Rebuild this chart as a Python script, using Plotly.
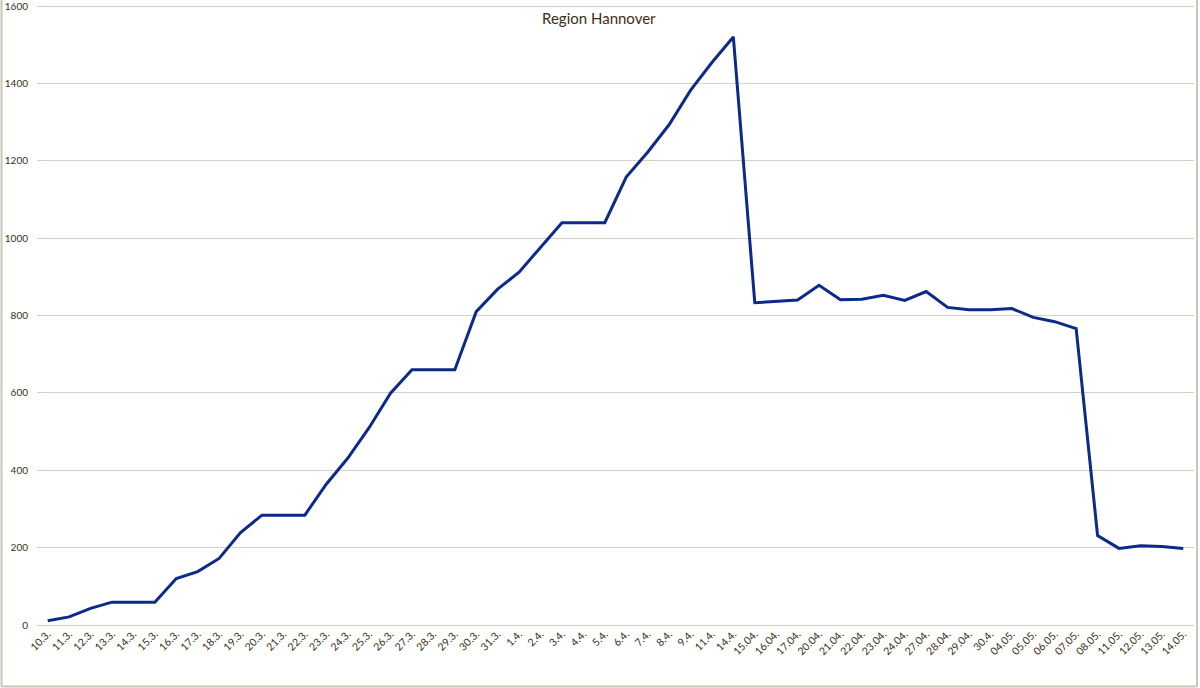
import plotly.graph_objects as go

dates = ["10.3.", "11.3.", "12.3.", "13.3.", "14.3.", "15.3.", "16.3.", "17.3.", "18.3.", "19.3.",
         "20.3.", "21.3.", "22.3.", "23.3.", "24.3.", "25.3.", "26.3.", "27.3.", "28.3.", "29.3.",
         "30.3.", "31.3.", "1.4.", "2.4.", "3.4.", "4.4.", "5.4.", "6.4.", "7.4.", "8.4.",
         "9.4.", "11.4.", "14.4.", "15.04.", "16.04.", "17.04.", "20.04.", "21.04.", "22.04.", "23.04.",
         "24.04.", "27.04.", "28.04.", "29.04.", "30.4.", "04.05.", "05.05.", "06.05.", "07.05.", "08.05.",
         "11.05.", "12.05.", "13.05.", "14.05."]

cases = [11, 21, 43, 59, 59, 59, 120, 138, 172, 239,
         284, 284, 284, 364, 431, 510, 599, 660, 660, 660,
         810, 868, 912, 976, 1040, 1040, 1040, 1158, 1222, 1293,
         1382, 1454, 1520, 833, 836, 840, 878, 841, 842, 852,
         839, 862, 821, 815, 815, 818, 795, 784, 766, 231,
         198, 205, 203, 198]

y_ticks = [0, 200, 400, 600, 800, 1000, 1200, 1400, 1600]

title_text = "Region Hannover"

text_color = "#3d2e14"
grid_color = "#d6d1c4"
line_color = "#0c2a8a"
font_family = "Lato, 'Open Sans', sans-serif"

fig = go.Figure()
fig.add_trace(go.Scatter(
    x=list(range(len(dates))),
    y=cases,
    mode="lines",
    line=dict(color=line_color, width=3),
    hoverinfo="y",
))

W, H = 1200, 688
ml, mr, mt, mb = 37, 6, 3, 63
pw = W - ml - mr
ph = H - mt - mb
y_top = 1600 * ph / (ph - 3)  # leave 3px above the 1600 gridline

def px(xp):
    return (xp - ml) / pw

def py(yp):
    return (H - mb - yp) / ph

fig.update_layout(
    width=W, height=H,
    margin=dict(l=ml, r=mr, t=mt, b=mb, pad=0),
    paper_bgcolor="white",
    plot_bgcolor="white",
    showlegend=False,
    font=dict(family=font_family, color=text_color, size=10),
    xaxis=dict(
        range=[-0.5, len(dates) - 0.5],
        tickmode="array",
        tickvals=list(range(len(dates))),
        ticktext=dates,
        tickangle=-45,
        showgrid=False,
        zeroline=False,
        showline=False,
        ticks="",
        automargin=False,
        ticklabeloverflow="allow",
        tickfont=dict(size=10.5, color=text_color),
    ),
    yaxis=dict(
        range=[0, y_top],
        tickmode="array",
        tickvals=y_ticks,
        showgrid=True,
        gridcolor=grid_color,
        gridwidth=1,
        zeroline=True,
        zerolinecolor=grid_color,
        zerolinewidth=1,
        showline=False,
        ticks="",
        automargin=False,
        ticklabeloverflow="allow",
        ticklabelstandoff=8,
        tickfont=dict(size=10, color=text_color),
    ),
    annotations=[dict(
        text=title_text,
        xref="paper", yref="paper",
        x=px(599), y=py(18),
        xanchor="center", yanchor="middle",
        showarrow=False,
        font=dict(size=15, color=text_color, family=font_family),
    )],
    shapes=[
        dict(type="line", xref="paper", yref="paper",
             x0=px(1.5), x1=px(1.5), y0=py(0), y1=py(686.5),
             line=dict(color="#c9c5b6", width=2)),
        dict(type="line", xref="paper", yref="paper",
             x0=px(1.5), x1=px(1197), y0=py(686.5), y1=py(686.5),
             line=dict(color="#c9c5b6", width=2)),
        dict(type="line", xref="paper", yref="paper",
             x0=px(1197), x1=px(1197), y0=py(0), y1=py(686.5),
             line=dict(color="#c9c5b6", width=2)),
    ],
)

fig.write_html("out.html", config={"displayModeBar": False})

with open("out.html", "r", encoding="utf-8") as f:
    html = f.read()
html = html.replace("<head>", "<head><style>html,body{margin:0;padding:0;overflow:hidden;}</style>", 1)
with open("out.html", "w", encoding="utf-8") as f:
    f.write(html)
